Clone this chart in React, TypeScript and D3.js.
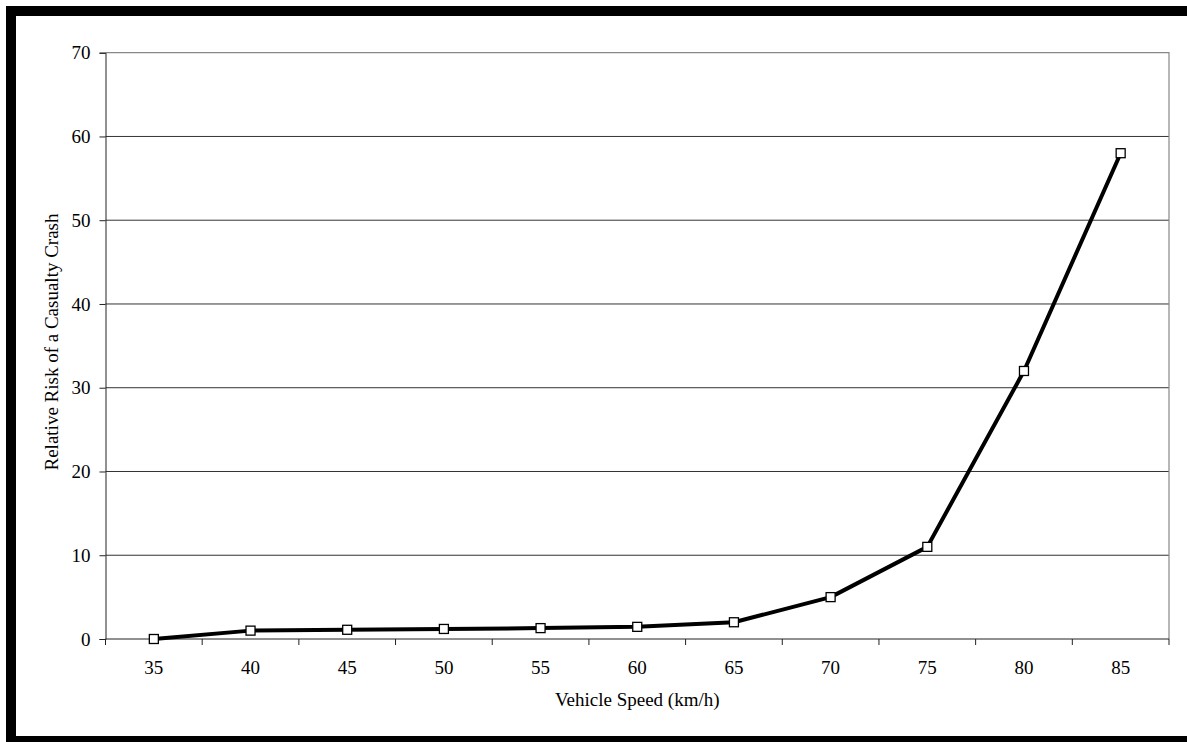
import { useRef, useEffect } from "react";
import * as d3 from "d3";

const speeds = ["35", "40", "45", "50", "55", "60", "65", "70", "75", "80", "85"];
const risk = [0, 1, 1.1, 1.2, 1.3, 1.45, 2, 5, 11, 32, 58];
const yTicks = [0, 10, 20, 30, 40, 50, 60, 70];

const W = 1187;
const H = 742;

export default function App() {
  const ref = useRef<SVGSVGElement>(null);

  useEffect(() => {
    const svg = d3.select(ref.current);
    svg.selectAll("*").remove();

    const left = 105.5, right = 1169, top = 52.7, bottom = 639;
    const font = "'Liberation Serif', 'Times New Roman', serif";
    const fs = 19;

    // frame (left, top, bottom only — picture is cropped on the right)
    svg.append("rect").attr("width", W).attr("height", H).attr("fill", "#fff");
    svg.append("rect").attr("x", 6).attr("y", 6).attr("width", W).attr("height", 10).attr("fill", "#000");
    svg.append("rect").attr("x", 6).attr("y", 6).attr("width", 10).attr("height", H).attr("fill", "#000");
    svg.append("rect").attr("x", 6).attr("y", 736).attr("width", W).attr("height", 10).attr("fill", "#000");

    const x = d3.scaleBand().domain(speeds).range([left, right]);
    const y = d3.scaleLinear().domain([0, 70]).range([bottom, top]);

    // gridlines
    svg.append("g")
      .selectAll("line")
      .data(yTicks.filter((t) => t > 0 && t < 70))
      .join("line")
      .attr("x1", left).attr("x2", right)
      .attr("y1", (d) => y(d)).attr("y2", (d) => y(d))
      .attr("stroke", "#333").attr("stroke-width", 1);

    // plot border top / right
    svg.append("path")
      .attr("d", `M${left},${y(70)}H${right}V${bottom}`)
      .attr("fill", "none").attr("stroke", "#888").attr("stroke-width", 1.2);

    // y axis
    const yAxis = svg.append("g").attr("transform", `translate(${left},0)`)
      .call(d3.axisLeft(y).tickValues(yTicks).tickSize(6).tickPadding(9));
    yAxis.select(".domain").attr("stroke", "#222");
    yAxis.selectAll(".tick line").attr("stroke", "#222");
    yAxis.selectAll("text").attr("font-family", font).attr("font-size", fs).attr("fill", "#000");

    // x axis with ticks between categories
    const xg = svg.append("g");
    xg.append("line").attr("x1", left).attr("x2", right).attr("y1", bottom).attr("y2", bottom)
      .attr("stroke", "#222").attr("stroke-width", 1);
    const bounds = speeds.map((s) => x(s) as number).concat([right]);
    xg.selectAll("line.tk")
      .data(bounds)
      .join("line")
      .attr("class", "tk")
      .attr("x1", (d) => d).attr("x2", (d) => d)
      .attr("y1", bottom).attr("y2", bottom + 6)
      .attr("stroke", "#222");
    xg.selectAll("text")
      .data(speeds)
      .join("text")
      .attr("x", (d) => (x(d) as number) + x.bandwidth() / 2)
      .attr("y", 674)
      .attr("text-anchor", "middle")
      .attr("font-family", font).attr("font-size", fs)
      .text((d) => d);

    // axis titles
    svg.append("text")
      .attr("x", (left + right) / 2).attr("y", 706)
      .attr("text-anchor", "middle")
      .attr("font-family", font).attr("font-size", fs)
      .text("Vehicle Speed (km/h)");
    svg.append("text")
      .attr("transform", `translate(58,342) rotate(-90)`)
      .attr("text-anchor", "middle")
      .attr("font-family", font).attr("font-size", fs)
      .text("Relative Risk of a Casualty Crash");

    const cx = (i: number) => (x(speeds[i]) as number) + x.bandwidth() / 2;

    const line = d3.line<number>().x((_, i) => cx(i)).y((d) => y(d));
    svg.append("path")
      .datum(risk)
      .attr("d", line)
      .attr("fill", "none")
      .attr("stroke", "#000")
      .attr("stroke-width", 4)
      .attr("stroke-linejoin", "round");

    svg.append("g")
      .selectAll("rect")
      .data(risk)
      .join("rect")
      .attr("x", (_, i) => cx(i) - 4.5)
      .attr("y", (d) => y(d) - 4.5)
      .attr("width", 9).attr("height", 9)
      .attr("fill", "#fff").attr("stroke", "#000").attr("stroke-width", 1.3);
  }, []);

  return (
    <svg
      ref={ref}
      width={W}
      height={H}
      style={{ position: "absolute", left: 0, top: 0, display: "block" }}
    />
  );
}
